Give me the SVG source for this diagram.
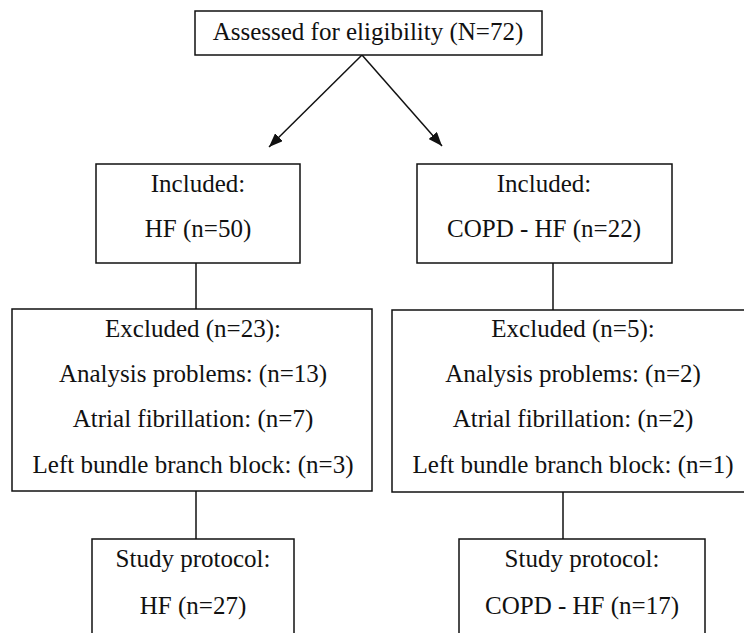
<svg xmlns="http://www.w3.org/2000/svg" width="744" height="633" viewBox="0 0 744 633">
<style>
.box{fill:#fff;stroke:#111;stroke-width:1.5}
.t{font-family:"Liberation Serif","Times New Roman",serif;font-size:25px;fill:#111;text-anchor:middle}
.c{stroke:#111;stroke-width:1.5;fill:none}
</style>
<defs>
<marker id="ah" viewBox="0 0 14 11" refX="14" refY="5.5" markerWidth="14" markerHeight="11" markerUnits="userSpaceOnUse" orient="auto">
<path d="M0,0 L14,5.5 L0,11 Z" fill="#111"/>
</marker>
</defs>
<rect width="744" height="633" fill="#fff"/>
<g id="connectors">
<line class="c" x1="362" y1="55" x2="269" y2="147" marker-end="url(#ah)"/>
<line class="c" x1="362" y1="55" x2="442" y2="146" marker-end="url(#ah)"/>
<line class="c" x1="196" y1="263" x2="196" y2="309"/>
<line class="c" x1="553" y1="263" x2="553" y2="310"/>
<line class="c" x1="196" y1="491" x2="196" y2="539"/>
<line class="c" x1="563" y1="492" x2="563" y2="539"/>
</g>
<g id="assessed">
<rect class="box" x="195" y="11" width="347" height="44"/>
<text class="t" x="368" y="40">Assessed for eligibility (N=72)</text>
</g>
<g id="included-hf">
<rect class="box" x="96" y="164" width="204" height="99"/>
<text class="t" x="198" y="192">Included:</text>
<text class="t" x="198" y="237">HF (n=50)</text>
</g>
<g id="included-copd">
<rect class="box" x="417" y="164" width="255" height="99"/>
<text class="t" x="544" y="192">Included:</text>
<text class="t" x="544" y="237">COPD - HF (n=22)</text>
</g>
<g id="excluded-hf">
<rect class="box" x="12" y="309" width="360" height="182"/>
<text class="t" x="193" y="337">Excluded (n=23):</text>
<text class="t" x="193" y="382">Analysis problems: (n=13)</text>
<text class="t" x="193" y="427">Atrial fibrillation: (n=7)</text>
<text class="t" x="193" y="473">Left bundle branch block: (n=3)</text>
</g>
<g id="excluded-copd">
<rect class="box" x="392" y="310" width="370" height="182"/>
<text class="t" x="573" y="337">Excluded (n=5):</text>
<text class="t" x="573" y="382">Analysis problems: (n=2)</text>
<text class="t" x="573" y="427">Atrial fibrillation: (n=2)</text>
<text class="t" x="573" y="473">Left bundle branch block: (n=1)</text>
</g>
<g id="study-hf">
<rect class="box" x="92" y="539" width="202" height="110"/>
<text class="t" x="193" y="567">Study protocol:</text>
<text class="t" x="193" y="614">HF (n=27)</text>
</g>
<g id="study-copd">
<rect class="box" x="459" y="539" width="246" height="110"/>
<text class="t" x="582" y="567">Study protocol:</text>
<text class="t" x="582" y="614">COPD - HF (n=17)</text>
</g>
</svg>
